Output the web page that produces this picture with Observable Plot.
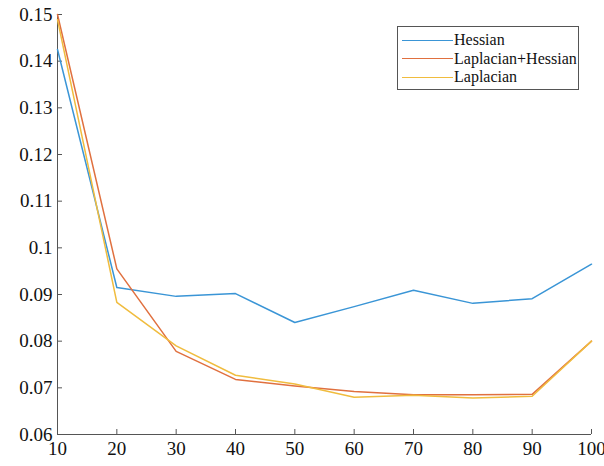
<!DOCTYPE html>
<html><head><meta charset="utf-8">
<script src="https://cdn.jsdelivr.net/npm/d3@7"></script>
<script src="https://cdn.jsdelivr.net/npm/@observablehq/plot@0.6"></script>
<style>
body{margin:0;background:#fff;}
#wrap{position:relative;width:604px;height:466px;}
#legend{position:absolute;left:397px;top:26px;width:182px;height:64px;border:1px solid #555;background:#fff;font-family:"Liberation Serif","Times New Roman",Times,serif;font-size:16px;color:#111;box-sizing:border-box;}
.row{position:absolute;left:4px;height:18px;display:flex;align-items:center;white-space:nowrap;}
.row span.sw{display:inline-block;width:51px;height:0;border-top:1.5px solid;margin-right:1px;}
svg text{font-family:"Liberation Serif","Times New Roman",Times,serif !important;}
</style></head>
<body><div id="wrap"><div id="legend"></div></div>
<script>
const xs = [10,20,30,40,50,60,70,80,90,100];
const seriesNames = ["Hessian","Laplacian+Hessian","Laplacian"];
const hessian = [0.1425,0.0915,0.0896,0.0902,0.0840,0.0874,0.0909,0.0881,0.0891,0.0965];
const lapHess = [0.1500,0.0955,0.0778,0.0718,0.0704,0.0692,0.0685,0.0685,0.0686,0.0800];
const laplacian = [0.1489,0.0883,0.0790,0.0727,0.0708,0.0680,0.0684,0.0678,0.0682,0.0800];
const colors = ["#3A95D6","#E0703F","#F0BC3E"];
const xTicks = [10,20,30,40,50,60,70,80,90,100];
const yTicks = [0.06,0.07,0.08,0.09,0.1,0.11,0.12,0.13,0.14,0.15];

const allSeries = [hessian, lapHess, laplacian];
const data = [];
allSeries.forEach((vals,i)=>vals.forEach((v,j)=>data.push({x:xs[j],y:v,s:seriesNames[i]})));

const chart = Plot.plot({
  width:604, height:466,
  marginLeft:57, marginRight:13, marginTop:14, marginBottom:32,
  style:{fontFamily:"'Liberation Serif','Times New Roman',Times,serif", fontSize:"19px", color:"#111", background:"#fff", overflow:"visible"},
  x:{domain:[10,100], ticks:xTicks, label:null},
  y:{domain:[0.06,0.15], ticks:yTicks, label:null},
  color:{domain:seriesNames, range:colors},
  marks:[
    Plot.axisX({ticks:xTicks, tickSize:-5, stroke:"#555", tickFormat:d=>String(d), tickPadding:12, fontSize:19, label:null, textAnchor:"middle"}),
    Plot.axisY({ticks:yTicks, tickSize:-5, stroke:"#555", tickFormat:d=>String(d), tickPadding:10, fontSize:19, label:null}),
    Plot.ruleX([10],{stroke:"#555", strokeWidth:1}),
    Plot.ruleY([0.06],{stroke:"#555", strokeWidth:1}),
    Plot.line(data,{x:"x",y:"y",z:"s",stroke:"s",strokeWidth:1.5})
  ]
});
document.getElementById("wrap").prepend(chart);
const leg = document.getElementById("legend");
seriesNames.forEach((n,i)=>{
  const r=document.createElement("div");r.className="row";r.style.top=(4+i*18.5)+"px";
  const sw=document.createElement("span");sw.className="sw";sw.style.borderColor=colors[i];
  const t=document.createElement("span");t.textContent=n;
  r.append(sw,t);leg.append(r);
});
</script></body></html>
